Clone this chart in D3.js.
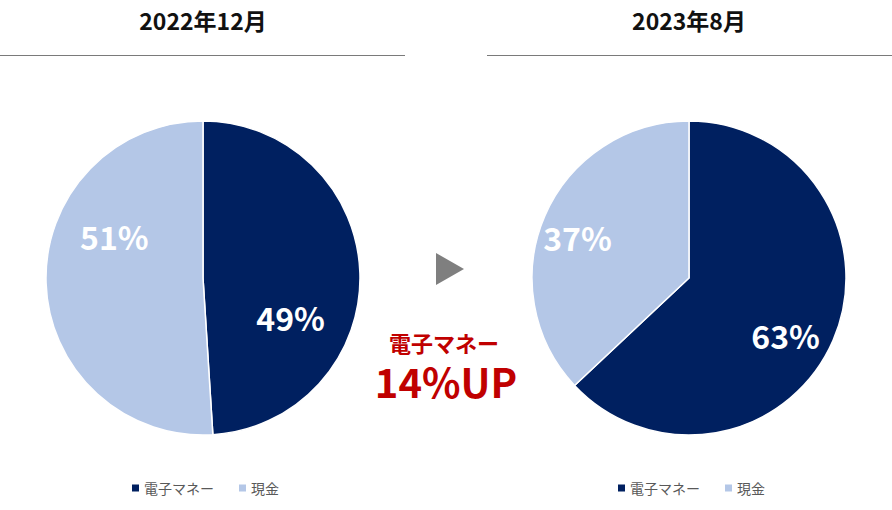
<!DOCTYPE html>
<html>
<head>
<meta charset="utf-8">
<script src="https://cdn.jsdelivr.net/npm/d3@7"></script>
<style>
  body { margin: 0; background: #fff; }
  text { font-family: "Noto Sans CJK JP", "Noto Sans", sans-serif; }
</style>
</head>
<body>
<div id="chart"></div>
<script>
const width = 892;
const height = 510;

// data
const periods = ["2022年12月", "2023年8月"];
const categories = ["電子マネー", "現金"];
const shares = [
  [49, 51],
  [63, 37]
];
const colors = ["#002060", "#b4c7e7"];
const upLabel = "電子マネー";
const upValue = "14%UP";

// layout
const centers = [203, 689];
const cy = 278;
const radius = 157;
// label position (angle shift from slice middle, radius) - excel "best fit" ish
const labelPlace = [
  [[26, 96], [27, 98]],
  [[7, 112], [-3, 119]]
];

const svg = d3.select("#chart").append("svg")
  .attr("width", width)
  .attr("height", height);

const pie = d3.pie().sort(null).value(d => d);
const arc = d3.arc().innerRadius(0).outerRadius(radius);

periods.forEach((p, i) => {
  const cx = centers[i];

  // title
  svg.append("text")
    .attr("x", cx)
    .attr("y", 30)
    .attr("text-anchor", "middle")
    .attr("font-size", 23)
    .attr("font-weight", "bold")
    .attr("fill", "#111")
    .text(p);

  // rule under title
  svg.append("line")
    .attr("x1", i === 0 ? 0 : 487)
    .attr("x2", i === 0 ? 405 : 892)
    .attr("y1", 55.5)
    .attr("y2", 55.5)
    .attr("stroke", "#7a7a7a")
    .attr("stroke-width", 1.2);

  const g = svg.append("g").attr("transform", `translate(${cx},${cy})`);
  const arcs = pie(shares[i]);

  g.selectAll("path")
    .data(arcs)
    .enter()
    .append("path")
    .attr("d", arc)
    .attr("fill", (d, j) => colors[j])
    .attr("stroke", "#fff")
    .attr("stroke-width", 1.5);

  g.selectAll("text.pct")
    .data(arcs)
    .enter()
    .append("text")
    .attr("class", "pct")
    .attr("transform", (d, j) => {
      const mid = (d.startAngle + d.endAngle) / 2 + labelPlace[i][j][0] * Math.PI / 180;
      const r = labelPlace[i][j][1];
      return `translate(${r * Math.sin(mid)},${-r * Math.cos(mid)})`;
    })
    .attr("text-anchor", "middle")
    .attr("dominant-baseline", "central")
    .attr("font-size", 32)
    .attr("font-weight", "bold")
    .attr("fill", "#fff")
    .text(d => d.data + "%");

  // legend
  const lg = svg.append("g").attr("transform", `translate(${cx - 71},488)`);
  let x = 0;
  categories.forEach((c, j) => {
    lg.append("rect")
      .attr("x", x)
      .attr("y", -3.5)
      .attr("width", 7)
      .attr("height", 7)
      .attr("fill", colors[j]);
    const t = lg.append("text")
      .attr("x", x + 12)
      .attr("y", 0)
      .attr("dominant-baseline", "central")
      .attr("font-size", 14)
      .attr("fill", "#595959")
      .text(c);
    x += 12 + t.node().getComputedTextLength() + 25;
  });
});

// arrow between the pies
svg.append("path")
  .attr("d", d3.line()([[436, 253], [464, 269], [436, 285]]) + "Z")
  .attr("fill", "#7f7f7f");

// callout
svg.append("text")
  .attr("x", 444)
  .attr("y", 352)
  .attr("text-anchor", "middle")
  .attr("font-size", 22)
  .attr("font-weight", "bold")
  .attr("fill", "#c00000")
  .text(upLabel);

svg.append("text")
  .attr("x", 446)
  .attr("y", 398)
  .attr("text-anchor", "middle")
  .attr("font-size", 40)
  .attr("font-weight", "bold")
  .attr("fill", "#c00000")
  .text(upValue);
</script>
</body>
</html>
